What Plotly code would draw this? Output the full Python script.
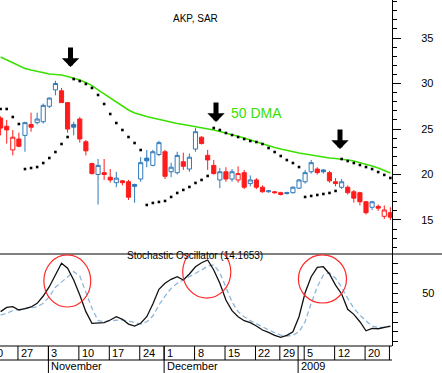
import pandas as pd
import plotly.graph_objects as go

FONT = "Liberation Sans, Arial, sans-serif"
RED = "#ff1c1c"
BLUE = "#2f79b9"
GREEN = "#3ae000"

# ---------------- data ----------------
holidays = pd.to_datetime(["2008-11-27", "2008-12-25", "2009-01-01", "2009-01-19"])
dates = [d for d in pd.bdate_range("2008-10-22", "2009-01-26") if d not in holidays]

opens = [26.2, 25.3, 22.7, 23.9, 24.3, 25.5, 25.7, 25.8, 27.5, 29.3,
         29.2, 27.9, 25.5, 26.1, 23.6, 21.2, 20.0, 20.2, 19.7, 19.1,
         19.3, 19.2, 18.9, 19.5, 21.8, 21.0, 22.2, 22.5, 20.3, 20.2,
         21.4, 20.6, 22.8, 24.1, 22.1, 21.0, 19.4, 20.3, 19.5, 19.4,
         20.2, 19.0, 19.4, 18.6, 18.1, 18.1, 18.0, 17.9, 18.0, 18.5,
         19.2, 20.3, 20.6, 20.5, 20.2, 19.2, 18.6, 18.6, 18.1, 18.0,
         17.0, 16.4, 16.5, 15.4, 15.8]
highs = [26.4, 26.0, 24.9, 24.6, 25.8, 26.8, 26.8, 27.8, 28.5, 30.3,
         29.5, 27.9, 25.8, 26.3, 23.8, 21.3, 21.7, 21.7, 20.6, 20.3,
         19.4, 19.4, 19.0, 21.9, 22.7, 22.7, 23.7, 22.7, 21.3, 22.5,
         22.4, 22.3, 25.1, 24.2, 22.7, 21.6, 20.7, 20.8, 20.6, 20.9,
         20.5, 19.9, 19.6, 18.8, 18.3, 18.2, 18.1, 18.1, 18.7, 19.5,
         20.5, 21.6, 20.8, 20.6, 20.4, 19.6, 19.5, 18.8, 18.3, 18.1,
         17.1, 17.1, 16.7, 16.6, 16.4]
lows = [24.3, 23.4, 22.1, 23.0, 22.5, 24.7, 25.5, 25.6, 27.3, 28.7,
        27.9, 24.6, 24.3, 23.5, 22.1, 20.0, 16.7, 19.4, 19.1, 18.6,
        18.8, 17.2, 16.9, 19.2, 20.8, 20.9, 22.0, 19.5, 19.7, 20.0,
        20.5, 20.3, 22.5, 23.3, 20.5, 20.0, 18.5, 19.2, 19.2, 19.1,
        18.4, 18.7, 18.4, 18.0, 18.0, 17.9, 17.7, 17.8, 17.9, 18.4,
        19.0, 20.1, 20.0, 20.1, 19.1, 18.7, 18.4, 17.8, 16.9, 16.6,
        15.6, 16.1, 16.0, 15.1, 15.0]
closes = [25.1, 24.9, 24.1, 23.1, 25.7, 25.2, 26.1, 27.6, 28.4, 30.0,
          27.9, 25.0, 25.2, 23.9, 22.6, 20.1, 21.0, 20.0, 19.4, 19.6,
          19.1, 17.5, 18.7, 21.3, 21.5, 22.5, 23.5, 19.8, 20.8, 22.1,
          20.9, 21.9, 24.7, 23.4, 21.6, 20.1, 20.3, 19.5, 20.3, 20.1,
          18.6, 19.4, 18.6, 18.1, 18.2, 18.0, 17.8, 18.0, 18.6, 19.4,
          20.2, 21.3, 20.2, 20.3, 19.3, 19.0, 19.2, 18.0, 17.4, 17.0,
          15.8, 17.0, 16.3, 16.1, 15.3]

dma50 = [32.91, 32.58, 32.25, 31.92, 31.65, 31.48, 31.32, 31.15, 31.04, 30.99,
         30.93, 30.77, 30.60, 30.38, 30.11, 29.78, 29.29, 28.85, 28.41, 27.97,
         27.53, 27.09, 26.76, 26.54, 26.37, 26.21, 26.04, 25.88, 25.71, 25.60,
         25.49, 25.38, 25.27, 25.16, 25.05, 24.89, 24.73, 24.56, 24.40, 24.23,
         24.01, 23.79, 23.57, 23.35, 23.13, 22.97, 22.80, 22.64, 22.47, 22.36,
         22.25, 22.14, 22.03, 21.87, 21.81, 21.76, 21.70, 21.59, 21.48, 21.32,
         21.10, 20.93, 20.71, 20.44, 20.16]

sar = [27.20, 27.20, 26.32, 25.55, 20.60, 20.71, 20.82, 21.26, 21.81, 22.47,
       23.35, 24.12, 30.49, 30.27, 29.95, 29.51, 28.74, 27.75, 26.65, 25.66,
       24.89, 24.12, 23.46, 22.69, 16.65, 16.87, 16.98, 17.09, 17.53, 17.97,
       18.30, 18.63, 19.07, 19.40, 19.84, 25.11, 24.89, 24.56, 24.34, 24.12,
       23.90, 23.68, 23.57, 23.35, 22.91, 22.47, 22.03, 21.59, 21.26, 20.82,
       17.53, 17.64, 17.75, 17.86, 17.97, 18.19, 21.70, 21.48, 21.26, 21.04,
       20.82, 20.60, 20.27, 19.95, 19.62]

stoch_k = [30.8, 35.2, 35.9, 32.5, 33.8, 35.6, 39.4, 46.9, 56.5, 68.6,
           80.6, 75.5, 63.4, 47.9, 30.8, 18.8, 18.8, 19.4, 22.2, 25.6,
           22.9, 18.0, 16.0, 18.8, 25.6, 38.7, 53.8, 60.0, 64.1, 66.8,
           63.4, 69.6, 77.1, 81.2, 84.0, 73.7, 60.0, 42.8, 31.8, 25.6,
           21.5, 19.4, 16.0, 11.9, 9.5, 6.4, 4.3, 6.4, 10.1, 25.6,
           50.3, 66.8, 76.5, 77.1, 69.6, 58.2, 49.0, 33.2, 28.0, 20.4,
           11.1, 13.6, 13.2, 14.6, 16.0]
stoch_d = [27.3, 29.0, 31.8, 32.8, 33.8, 34.2, 35.9, 39.4, 46.2, 55.9,
           61.0, 66.8, 72.0, 67.5, 51.3, 34.2, 21.5, 20.4, 21.5, 22.2,
           22.2, 21.1, 19.4, 18.0, 20.4, 26.3, 37.6, 46.9, 54.8, 60.0,
           63.4, 66.8, 69.6, 73.7, 77.8, 78.9, 70.9, 56.5, 41.0, 30.8,
           25.6, 21.5, 18.0, 15.3, 11.9, 9.5, 6.7, 5.7, 6.4, 10.1,
           20.4, 39.4, 56.5, 68.6, 70.9, 65.2, 55.9, 44.5, 34.2, 27.3,
           21.1, 16.0, 14.6, 14.6, 15.3]

price_ticks = [15, 20, 25, 30, 35]
stoch_ticks = [0, 10, 20, 30, 40, 50, 60, 70, 80]
stoch_labels = ["", "", "", "", "", "50", "", "", ""]

# highlighted peaks (index span, value span) and signal arrows (index, price)
circles = [(7.1, 14.8, 35.6, 89.2), (29.9, 37.8, 44.8, 98.5), (48.9, 56.8, 39.7, 89.2)]
arrows = [(11.48, 31.81), (35.37, 25.77), (55.73, 22.80)]

# ---------------- figure ----------------
idx = list(range(len(dates)))
X0, X1 = -0.1, 64.27
PLOT_W = 392.0

# candle colour: red when close below previous close
is_red = [closes[i] < (closes[i - 1] if i > 0 else opens[i]) for i in idx]

fig = go.Figure()
for red, col in ((True, RED), (False, BLUE)):
    sel = [i for i in idx if is_red[i] == red]
    fig.add_trace(go.Candlestick(
        x=sel,
        open=[opens[i] for i in sel], high=[highs[i] for i in sel],
        low=[lows[i] for i in sel], close=[closes[i] for i in sel],
        increasing=dict(line=dict(color=col, width=1), fillcolor="white"),
        decreasing=dict(line=dict(color=col, width=1), fillcolor=col),
        whiskerwidth=0, hoverinfo="skip", xaxis="x", yaxis="y"))

fig.add_trace(go.Scatter(x=idx, y=dma50, mode="lines",
                         line=dict(color=GREEN, width=1.5), hoverinfo="skip",
                         xaxis="x", yaxis="y"))
fig.add_trace(go.Scatter(x=idx, y=sar, mode="markers",
                         marker=dict(color="black", size=2.6, symbol="square"),
                         hoverinfo="skip", xaxis="x", yaxis="y"))

fig.add_trace(go.Scatter(x=idx, y=stoch_d, mode="lines",
                         line=dict(color="#8db7dc", width=1.3, dash="5px,3px"),
                         hoverinfo="skip", xaxis="x", yaxis="y2"))
fig.add_trace(go.Scatter(x=idx, y=stoch_k, mode="lines",
                         line=dict(color="#111111", width=1.3),
                         hoverinfo="skip", xaxis="x", yaxis="y2"))

H = 373.0
P_BOT = (H - 254) / H
S_BOT = (H - 346) / H
D_BOT = (H - 360) / H

shapes = []
line = dict(color="black", width=1)
shapes.append(dict(type="line", xref="paper", yref="paper", x0=0, x1=442 / PLOT_W,
                   y0=P_BOT, y1=P_BOT, line=line))
shapes.append(dict(type="line", xref="paper", yref="paper", x0=0, x1=1,
                   y0=S_BOT, y1=S_BOT, line=line))
shapes.append(dict(type="line", xref="paper", yref="paper", x0=0, x1=1,
                   y0=D_BOT, y1=D_BOT, line=line))

annotations = []
label_font = dict(size=11, color="black", family=FONT)

# week that started before the first trading day shown (only its tail is visible)
first = dates[0]
pre_idx = -first.weekday() - 0.15
pre_day = (first - pd.Timedelta(days=first.weekday())).day
annotations.append(dict(x=(pre_idx - X0) / (X1 - X0), y=(H - 353) / H, xref="paper",
                        yref="paper", text=str(pre_day), showarrow=False, xanchor="left",
                        yanchor="middle", xshift=1, font=label_font))

month_names = {11: "November", 12: "December"}
for i, d in enumerate(dates):
    prev = dates[i - 1] if i > 0 else None
    new_week = prev is None or d.weekday() < prev.weekday() or (d - prev).days > 3
    new_month = prev is not None and d.month != prev.month
    if new_month:
        shapes.append(dict(type="line", xref="x", yref="paper", x0=i - 0.15, x1=i - 0.15,
                           y0=0, y1=S_BOT, line=line))
        annotations.append(dict(x=i - 0.15, y=(H - 366) / H, xref="x", yref="paper",
                                text=month_names.get(d.month, str(d.year)),
                                showarrow=False, xanchor="left", yanchor="middle",
                                xshift=1, font=label_font))
    if new_week and i > 0:
        shapes.append(dict(type="line", xref="x", yref="paper", x0=i - 0.15, x1=i - 0.15,
                           y0=D_BOT, y1=S_BOT, line=line))
        if i + 2 < X1:
            annotations.append(dict(x=i - 0.15, y=(H - 353) / H, xref="x", yref="paper",
                                    text=str(d.day), showarrow=False, xanchor="left",
                                    yanchor="middle", xshift=1, font=label_font))

for (a, b, lo, hi) in circles:
    shapes.append(dict(type="circle", xref="x", yref="y2", x0=a, x1=b, y0=lo, y1=hi,
                       line=dict(color="#ff2a2a", width=1.2)))

for (ax_i, ay_p) in arrows:
    annotations.append(dict(x=ax_i, y=ay_p, xref="x", yref="y", text="", showarrow=True,
                            ax=0, ay=-21, arrowhead=1, arrowsize=0.58, arrowwidth=5,
                            arrowcolor="black", standoff=0))

annotations.append(dict(x=195 / PLOT_W, y=(H - 11) / H, xref="paper", yref="paper",
                        text="AKP, SAR", showarrow=False,
                        font=dict(size=10, color="black", family=FONT)))
annotations.append(dict(x=195 / PLOT_W, y=(H - 263) / H, xref="paper", yref="paper",
                        text="Stochastic Oscillator (14.1653)", showarrow=False,
                        font=dict(size=10, color="black", family=FONT)))
annotations.append(dict(x=42.1, y=26.76, xref="x", yref="y", text="50 DMA",
                        showarrow=False, font=dict(size=14, color=GREEN, family=FONT)))

fig.update_layout(
    width=442, height=373,
    margin=dict(l=0, r=50, t=0, b=0),
    paper_bgcolor="white", plot_bgcolor="white",
    showlegend=False, boxgap=0.32, boxgroupgap=0,
    shapes=shapes, annotations=annotations,
    xaxis=dict(range=[X0, X1], showticklabels=False, showgrid=False, zeroline=False,
               showline=False, ticks="", rangeslider=dict(visible=False), anchor="y2",
               fixedrange=True),
    yaxis=dict(domain=[P_BOT, 1], range=[11.26, 39.18], side="right", anchor="x",
               showgrid=False, zeroline=False, showline=True, linecolor="black",
               linewidth=1, ticks="outside", ticklen=8, tickcolor="black",
               tickvals=price_ticks, ticklabelstandoff=18,
               minor=dict(dtick=1, ticklen=4, ticks="outside", tickcolor="black",
                          showgrid=False),
               tickfont=dict(size=11, color="black", family=FONT)),
    yaxis2=dict(domain=[S_BOT, P_BOT], range=[-4.6, 90.2], side="right", anchor="x",
                showgrid=False, zeroline=False, showline=True, linecolor="black",
                linewidth=1, ticks="outside", ticklen=5, tickcolor="black",
                tickvals=stoch_ticks, ticktext=stoch_labels, ticklabelstandoff=22,
                tickfont=dict(size=11, color="black", family=FONT)),
)

fig.write_html("out.html", config={"displayModeBar": False},
               post_script="document.body.style.margin='0px';document.body.style.padding='0px';")
